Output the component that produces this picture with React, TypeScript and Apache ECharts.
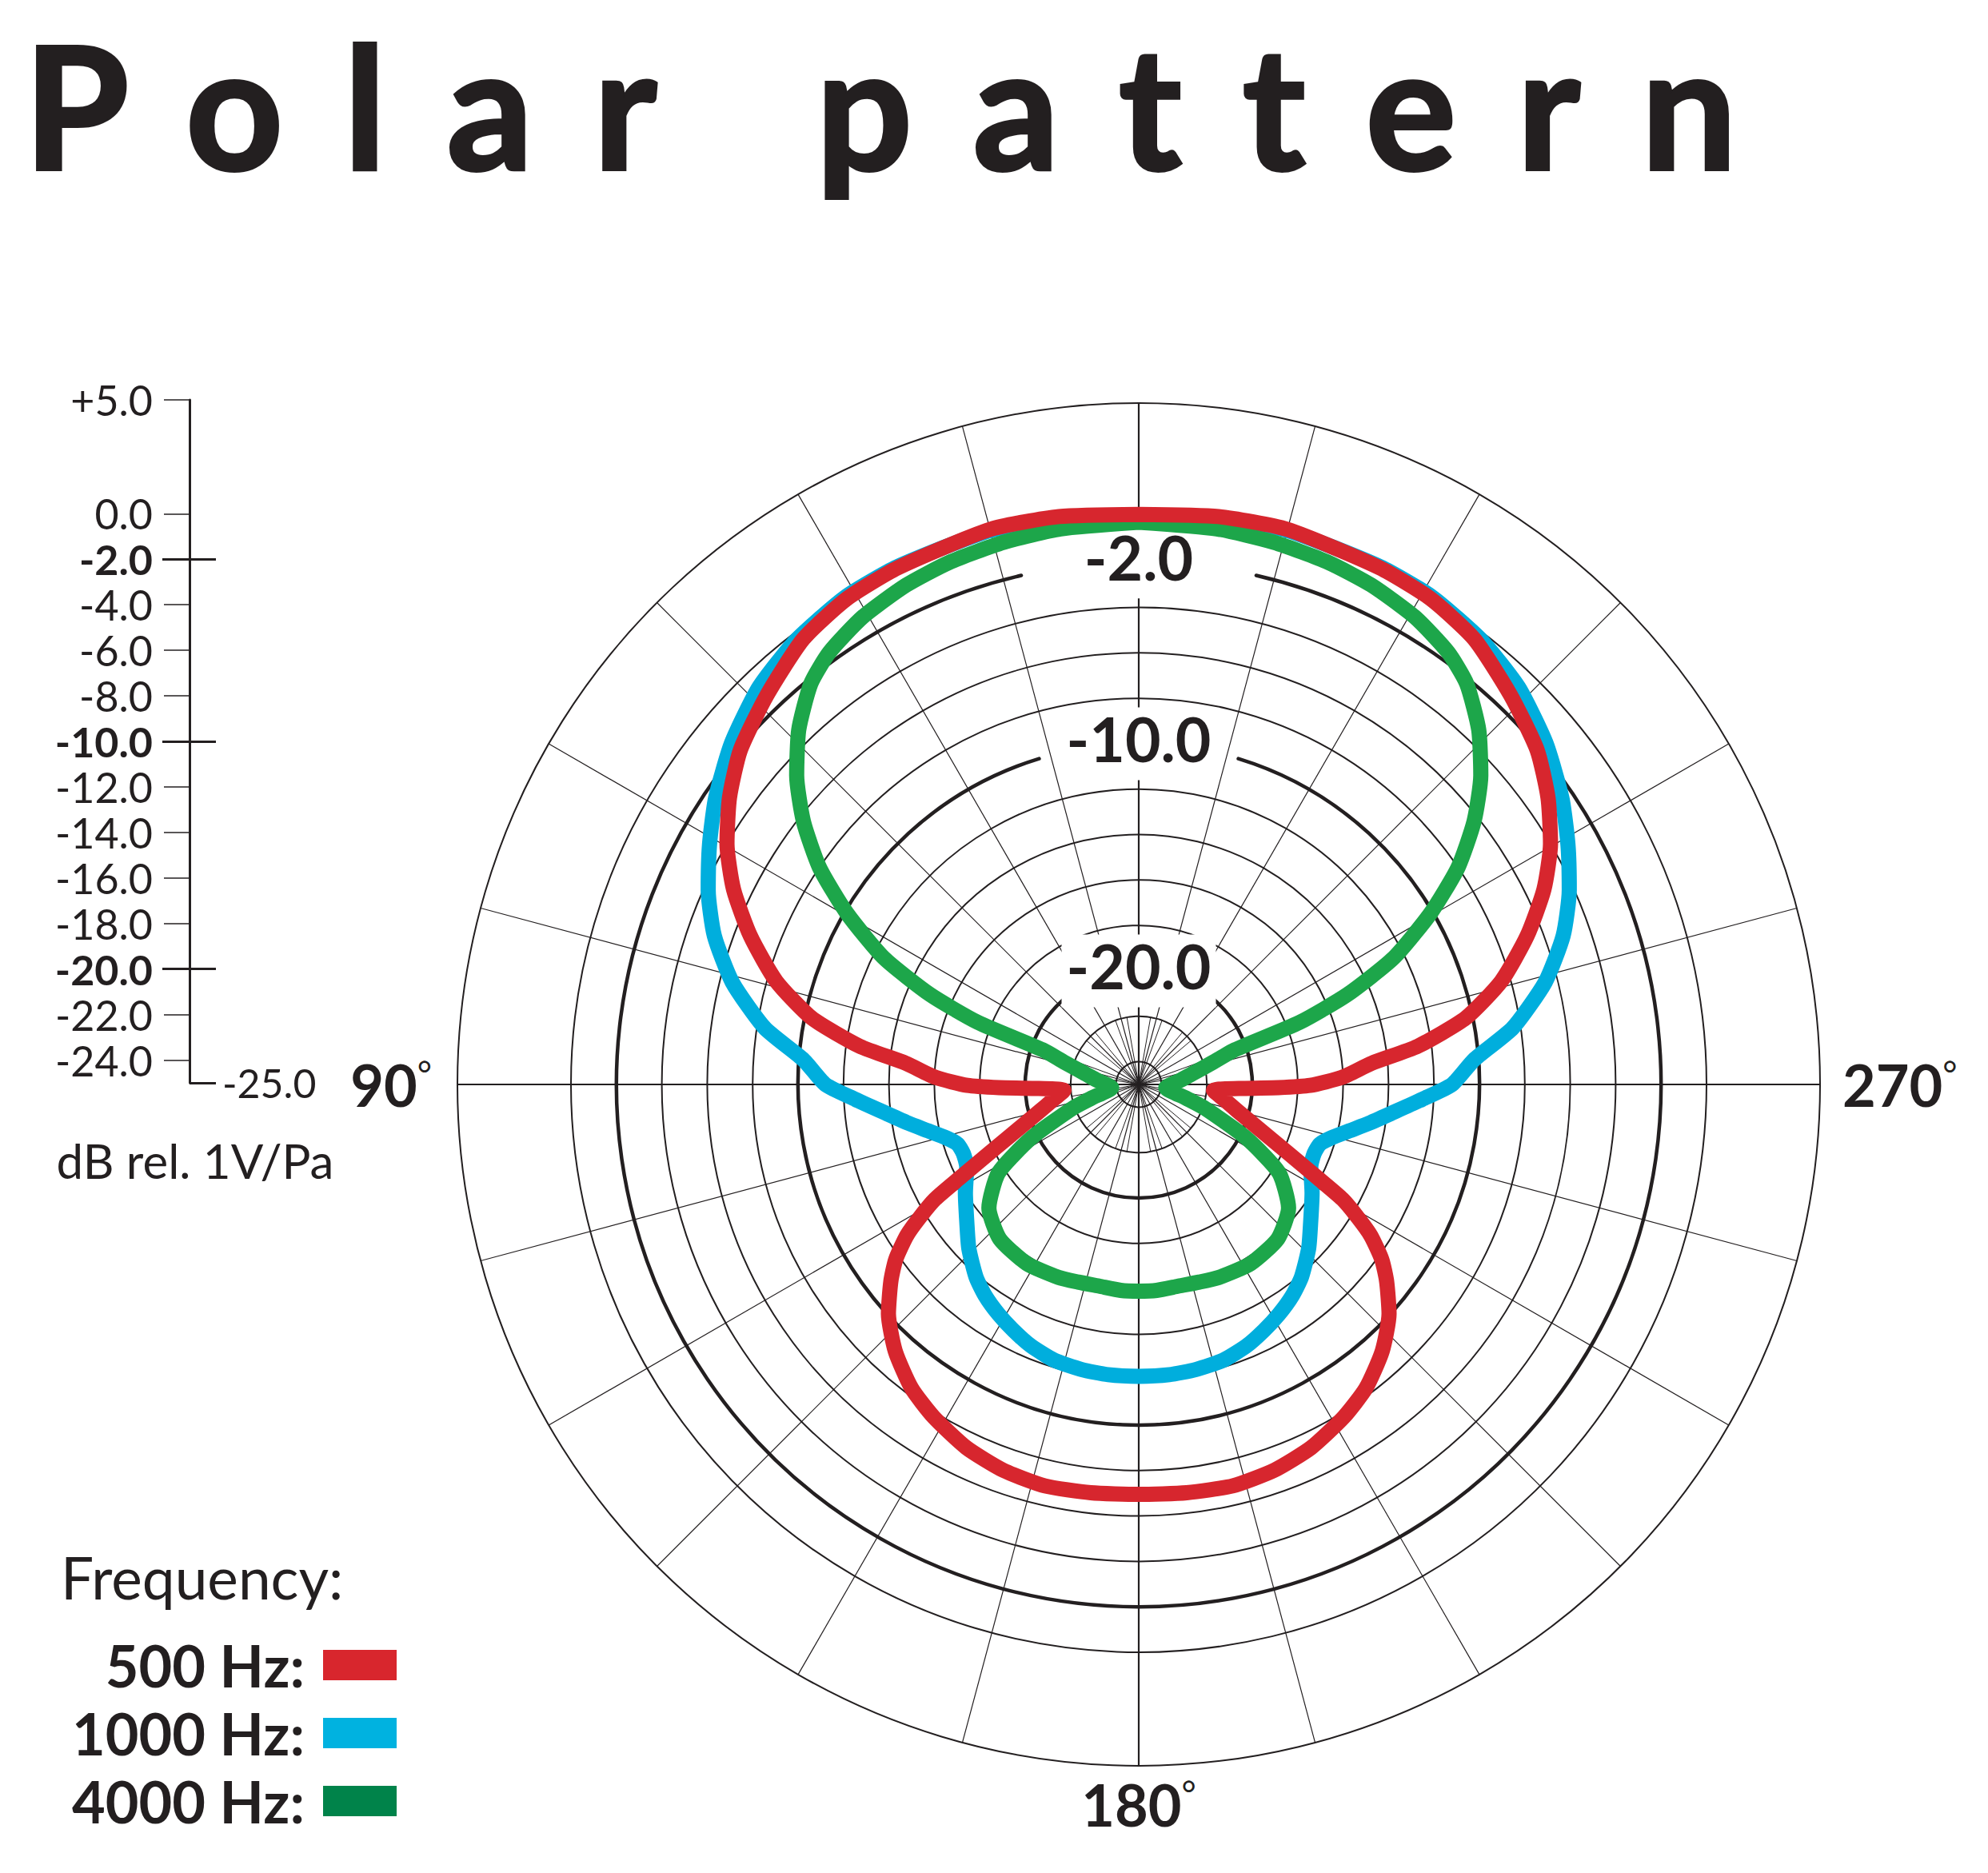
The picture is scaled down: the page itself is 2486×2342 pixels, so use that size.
import React, { useEffect, useRef } from 'react';
import * as echarts from 'echarts';

const INK = '#231F20';
const FONT = 'Lato, "Open Sans", sans-serif';

const TITLE = 'Polar pattern';
const DB_UNIT = 'dB rel. 1V/Pa';
const LEGEND_TITLE = 'Frequency:';
const SERIES_NAMES = ['500 Hz:', '1000 Hz:', '4000 Hz:'];
const CURVE_COLORS = ['#D7262E', '#00AEDD', '#1DA64A'];
const LEGEND_COLORS = ['#D8262D', '#00B2E0', '#00834A'];

// [angle in degrees (0 = front, 90 = left side), level in dB].
// One half of each (symmetric) pattern, 0..180.
const RED_500: [number, number][] = [
  [0, 0.1], [8, 0.25], [15, 0.3], [25, 0.1], [31, -0.05], [37, -0.45], [43.7, -1.3], [50, -2.1],
  [55, -3.0], [59.7, -4.0], [64.3, -5.2], [69.1, -6.7], [74.1, -8.4], [78.5, -10.3], [82.2, -12.6],
  [84.8, -14.7], [88, -16.05], [90.3, -17.45], [91.3, -18.85], [92.1, -20.3], [94.5, -21.7],
  [100.7, -21.1], [105, -20.5], [110.8, -19.2], [114.7, -17.75], [117.6, -16.1], [119.4, -14.7],
  [121.3, -13.7], [123.1, -12.8], [125.8, -11.8], [128.5, -11.05], [132.5, -10.05], [137.6, -9.1],
  [143.2, -8.3], [148.3, -7.8], [154.6, -7.3], [160.6, -7.0], [166.8, -6.85], [173.3, -6.9], [180, -6.95],
];
const BLUE_1000: [number, number][] = [
  [0, -0.05], [8, 0.1], [15, 0.25], [25, 0.15], [31, 0.05], [37.7, -0.3], [43.7, -0.8], [50, -1.6],
  [55.9, -2.5], [60.8, -3.35], [65.7, -4.2], [70.7, -5.2], [75.9, -6.55], [81.4, -8.34], [85.8, -10.2],
  [90, -11.2], [93, -12.5], [96.5, -13.8], [99.5, -14.7], [102.4, -15.5], [105.5, -16.2], [108.2, -16.6],
  [111.5, -16.7], [115.6, -16.6], [122, -16.0], [128.7, -15.3], [134, -14.6], [139.8, -13.9],
  [144, -13.5], [148.6, -13.15], [153, -12.85], [157.6, -12.55], [163, -12.3], [168.6, -12.2],
  [174, -12.15], [180, -12.15],
];
const GREEN_4000: [number, number][] = [
  [0, -0.25], [8, -0.3], [14, -0.4], [20, -0.55], [25, -0.75], [30.6, -1.1], [35.6, -1.6], [39.3, -2.2],
  [43.8, -3.37], [47.9, -4.7], [51.9, -6.24], [55.8, -8.0], [59.6, -10.1], [63.6, -12.47], [66.7, -15.0],
  [68.9, -17.4], [70.2, -20.5], [73.3, -21.56], [78.7, -22.6], [84.9, -23.2], [96.7, -23.8],
  [106.1, -22.84], [109.8, -21.9], [116.5, -19.7], [122.2, -17.7], [129.5, -16.45], [138, -15.85],
  [148, -15.7], [157.4, -15.8], [163, -15.9], [169, -15.95], [175, -15.9], [180, -15.9],
];
const PATTERNS = [RED_500, BLUE_1000, GREEN_4000];

const DB_MIN = -25;
const DB_MAX = 5;
const SCALE_LABEL_LEVELS = [5, 0, -2, -4, -6, -8, -10, -12, -14, -16, -18, -20, -22, -24];
const THIN_TICK_LEVELS = [5, 0, -4, -6, -8, -12, -14, -16, -18, -22, -24];
const BOLD_LEVELS = [-2, -10, -20];
const THIN_CIRCLE_LEVELS = [0, -4, -6, -8, -12, -14, -16, -18, -22, -24];
const ANGLE_LABELS = [90, 180, 270];

// grid decoration
const ARC_GAP_DEG: Record<string, number> = { '-2': 13, '-10': 17, '-20': 39 };
const INNER_SPOKE_END = -22;

function fullPattern(half: [number, number][]) {
  const mirrored = half
    .slice(0, -1)
    .reverse()
    .map(([a, v]) => [360 - a, v] as [number, number]);
  return [...half, ...mirrored].map(([a, v]) => [v, a]);
}

const fmtLevel = (v: number) => (v > 0 ? '+' : '') + v.toFixed(1);

function buildOption() {
  const scaleCats: string[] = [];
  for (let v = DB_MIN; v <= DB_MAX; v++) scaleCats.push(String(v));

  const spokes: number[][] = [];
  for (let a = 0; a < 360; a += 15) spokes.push([DB_MAX, a, a % 90 === 0 ? 2 : 1]);
  for (let a = 0; a < 360; a += 10) if (a % 15 !== 0) spokes.push([INNER_SPOKE_END, a, 0]);

  const centerOf = (api: any) => api.coord([DB_MIN, 0]);
  const radiusOf = (api: any, level: number) => {
    const c = api.coord([DB_MIN, 0]);
    const p = api.coord([level, 0]);
    return Math.hypot(p[0] - c[0], p[1] - c[1]);
  };

  const scaleAxisBase = {
    type: 'category',
    data: scaleCats,
    boundaryGap: false,
    position: 'left',
    splitLine: { show: false },
  };

  const curveZ = [7, 5, 6];

  return {
    animation: false,
    backgroundColor: '#ffffff',
    textStyle: { fontFamily: FONT },
    polar: { center: [1424, 1356], radius: 852 },
    angleAxis: {
      type: 'value',
      min: 0,
      max: 360,
      interval: 90,
      startAngle: 90,
      clockwise: false,
      axisLine: { show: true, lineStyle: { color: INK, width: 2 } },
      axisTick: { show: false },
      splitLine: { show: false },
      axisLabel: {
        show: true,
        margin: 12,
        formatter: (v: number) => {
          if (!ANGLE_LABELS.includes(v)) return '';
          const side = Math.round(Math.sin((v * Math.PI) / 180));
          if (side === 1) return `{n|${v}}{dr|°}`;
          if (side === -1) return `{nl|${v}}{d|°}`;
          return `{n|${v}}{d|°}`;
        },
        rich: {
          n: { fontSize: 72, fontWeight: 'bold', fontFamily: FONT, color: INK, lineHeight: 72 },
          nl: { fontSize: 72, fontWeight: 'bold', fontFamily: FONT, color: INK, lineHeight: 72, padding: [0, 0, 0, 16] },
          d: { fontSize: 44, fontFamily: FONT, color: INK, verticalAlign: 'top', lineHeight: 44 },
          dr: { fontSize: 44, fontFamily: FONT, color: INK, verticalAlign: 'top', lineHeight: 44, padding: [0, 20, 0, 0] },
        },
      },
    },
    radiusAxis: {
      type: 'value',
      min: DB_MIN,
      max: DB_MAX,
      interval: 1,
      z: 4,
      axisLine: { show: false },
      axisTick: { show: false },
      splitLine: { show: false },
      axisLabel: {
        show: true,
        margin: 0,
        align: 'center',
        verticalAlign: 'middle',
        formatter: (v: number) => (BOLD_LEVELS.includes(v) ? `{c|${fmtLevel(v)}}` : ''),
        rich: {
          c: {
            fontSize: 77,
            fontWeight: 'bold',
            fontFamily: FONT,
            color: INK,
            backgroundColor: '#ffffff',
            lineHeight: 62,
            padding: [0, 6, 14, 6],
          },
        },
      },
    },
    grid: { left: 237, top: 500, width: 40, height: 854, show: false },
    xAxis: { type: 'value', min: 0, max: 1, show: false },
    yAxis: [
      {
        ...scaleAxisBase,
        axisLine: { show: true, onZero: false, lineStyle: { color: INK, width: 3 } },
        axisTick: {
          show: true,
          length: 32,
          interval: (_i: number, v: string) => THIN_TICK_LEVELS.includes(Number(v)),
          lineStyle: { color: INK, width: 1.5 },
        },
        axisLabel: {
          show: true,
          margin: 46,
          interval: (_i: number, v: string) => SCALE_LABEL_LEVELS.includes(Number(v)),
          formatter: (v: string) => {
            const n = Number(v);
            return BOLD_LEVELS.includes(n) ? `{b|${fmtLevel(n)}}` : `{n|${fmtLevel(n)}}`;
          },
          rich: {
            n: { fontSize: 52, fontFamily: FONT, color: INK },
            b: { fontSize: 52, fontWeight: 'bold', fontFamily: FONT, color: INK },
          },
        },
        name: DB_UNIT,
        nameLocation: 'start',
        nameGap: 67,
        nameTextStyle: { fontSize: 60, fontFamily: FONT, color: INK, padding: [0, 0, 0, 14] },
      },
      {
        ...scaleAxisBase,
        axisLine: { show: false, onZero: false },
        axisTick: {
          show: true,
          length: 34,
          interval: (_i: number, v: string) => BOLD_LEVELS.includes(Number(v)),
          lineStyle: { color: INK, width: 3 },
        },
        axisLabel: { show: false },
      },
      {
        ...scaleAxisBase,
        axisLine: { show: false, onZero: false },
        axisTick: {
          show: true,
          inside: true,
          length: 33,
          interval: (_i: number, v: string) => BOLD_LEVELS.includes(Number(v)) || Number(v) === DB_MIN,
          lineStyle: { color: INK, width: 3 },
        },
        axisLabel: {
          show: true,
          inside: true,
          margin: 41,
          interval: (_i: number, v: string) => Number(v) === DB_MIN,
          formatter: (v: string) => fmtLevel(Number(v)),
          fontSize: 50,
          fontFamily: FONT,
          color: INK,
        },
      },
    ],
    legend: {
      orient: 'vertical',
      align: 'right',
      right: 2486 - 496,
      top: 2046,
      padding: 0,
      itemWidth: 92,
      itemHeight: 38,
      itemGap: 13,
      icon: 'rect',
      selectedMode: false,
      itemStyle: { borderWidth: 0 },
      textStyle: { fontSize: 72, fontWeight: 'bold', fontFamily: FONT, color: INK, padding: [0, 18, 0, 0] },
      data: SERIES_NAMES.map((name, i) => ({ name, itemStyle: { color: LEGEND_COLORS[i], borderWidth: 0 } })),
    },
    graphic: [
      {
        type: 'text',
        x: 30,
        y: 130,
        silent: true,
        style: {
          text: TITLE,
          fontSize: 212,
          fontWeight: 'bold',
          fontFamily: FONT,
          fill: INK,
          stroke: INK,
          lineWidth: 4,
          textAlign: 'left',
          textVerticalAlign: 'middle',
          align: 'left',
          verticalAlign: 'middle',
        },
      },
      {
        type: 'text',
        x: 76,
        y: 1972,
        silent: true,
        style: {
          text: LEGEND_TITLE,
          fontSize: 73,
          fontFamily: FONT,
          fill: INK,
          textAlign: 'left',
          textVerticalAlign: 'middle',
          align: 'left',
          verticalAlign: 'middle',
        },
      },
    ],
    series: [
      {
        type: 'custom',
        name: 'rings',
        coordinateSystem: 'polar',
        silent: true,
        clip: false,
        z: 1,
        data: THIN_CIRCLE_LEVELS.map((l) => [l, 0]),
        renderItem: (_p: any, api: any) => {
          const c = centerOf(api);
          return {
            type: 'circle',
            shape: { cx: c[0], cy: c[1], r: radiusOf(api, api.value(0)) },
            style: { fill: 'none', stroke: INK, lineWidth: 2 },
          };
        },
      },
      {
        type: 'custom',
        name: 'major rings',
        coordinateSystem: 'polar',
        silent: true,
        clip: false,
        z: 1,
        data: BOLD_LEVELS.map((l) => [l, 0]),
        renderItem: (_p: any, api: any) => {
          const c = centerOf(api);
          const level = api.value(0);
          const g = ((ARC_GAP_DEG[String(level)] || 0) * Math.PI) / 180;
          return {
            type: 'arc',
            shape: {
              cx: c[0],
              cy: c[1],
              r: radiusOf(api, level),
              startAngle: -Math.PI / 2 + g,
              endAngle: (3 * Math.PI) / 2 - g,
              clockwise: true,
            },
            style: { fill: 'none', stroke: INK, lineWidth: 4.5, lineCap: 'round' },
          };
        },
      },
      {
        type: 'custom',
        name: 'spokes',
        coordinateSystem: 'polar',
        silent: true,
        clip: false,
        z: 1,
        data: spokes,
        renderItem: (_p: any, api: any) => {
          const ang = api.value(1);
          const c = api.coord([DB_MIN, ang]);
          const p = api.coord([api.value(0), ang]);
          const kind = api.value(2);
          return {
            type: 'line',
            shape: { x1: c[0], y1: c[1], x2: p[0], y2: p[1] },
            style: { stroke: INK, lineWidth: kind === 2 ? 2.2 : kind === 1 ? 1.2 : 1 },
          };
        },
      },
      ...PATTERNS.map((half, i) => ({
        type: 'line',
        name: SERIES_NAMES[i],
        coordinateSystem: 'polar',
        data: fullPattern(half),
        symbol: 'none',
        showSymbol: false,
        smooth: 0.2,
        silent: true,
        z: curveZ[i],
        color: CURVE_COLORS[i],
        lineStyle: { width: 19, color: CURVE_COLORS[i], cap: 'round', join: 'round' },
      })),
    ],
  };
}

export default function App() {
  const ref = useRef<HTMLDivElement>(null);
  useEffect(() => {
    const el = ref.current;
    if (!el) return;
    const chart = echarts.init(el, null, { renderer: 'svg' });
    chart.setOption(buildOption() as any);
    const spaceTitle = () => {
      el.querySelectorAll('text').forEach((t) => {
        if (t.textContent === TITLE) (t as SVGTextElement).style.letterSpacing = '76px';
      });
    };
    spaceTitle();
    chart.on('finished', spaceTitle);
    return () => {
      chart.dispose();
    };
  }, []);
  return (
    <div
      ref={ref}
      style={{ position: 'absolute', left: 0, top: 0, width: 2486, height: 2342, background: '#fff' }}
    />
  );
}
